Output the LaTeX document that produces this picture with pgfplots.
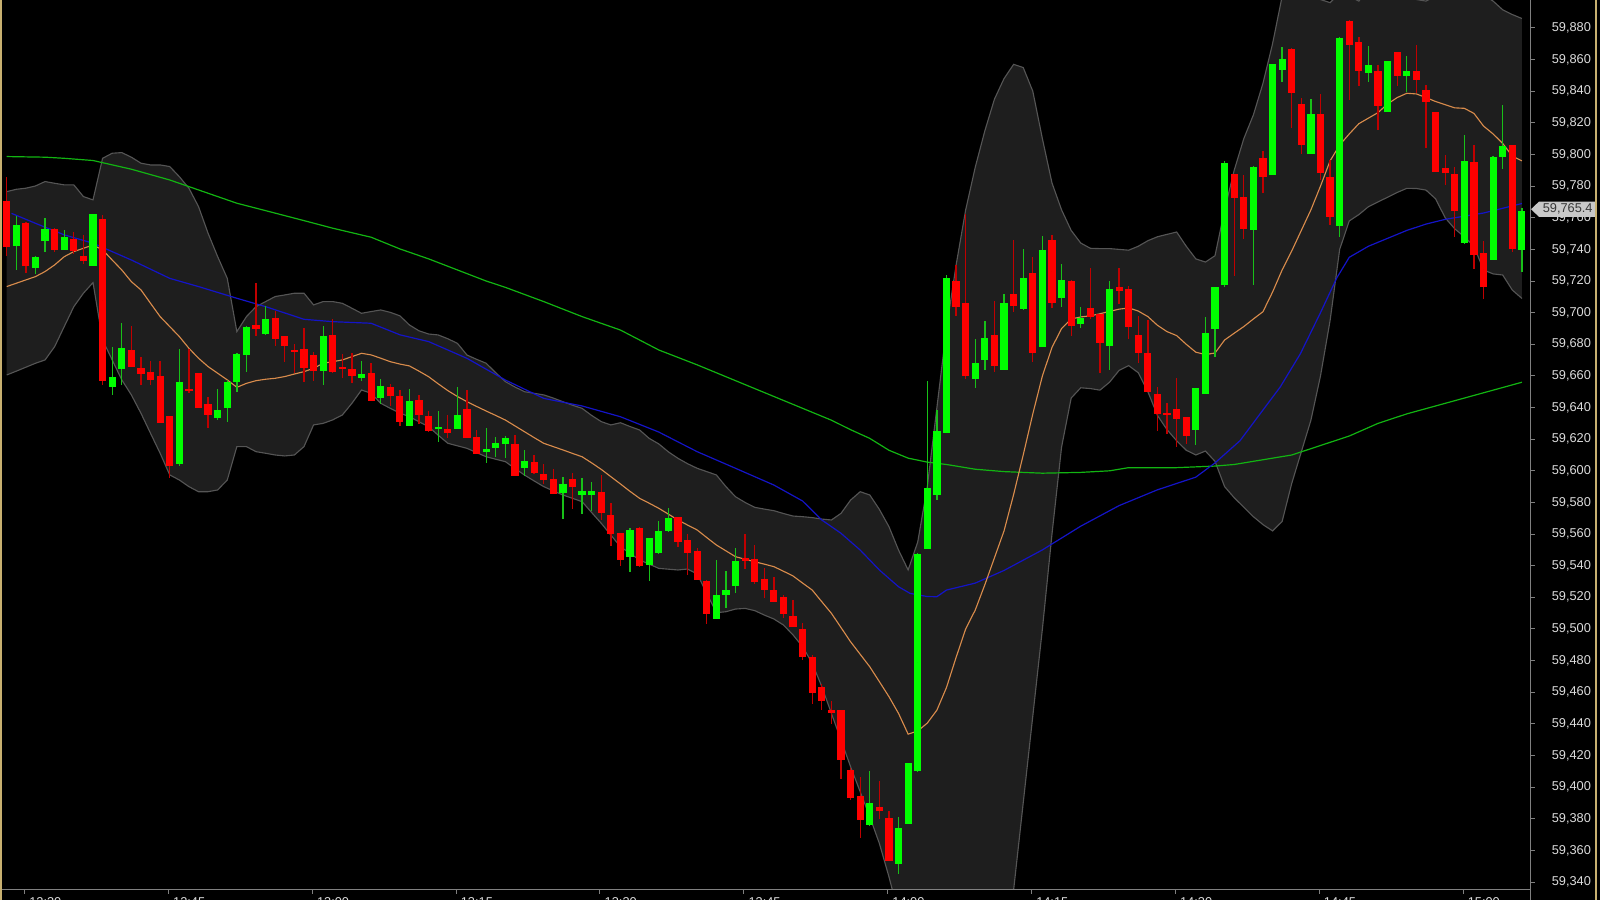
\documentclass[border=0pt]{standalone}
\usepackage{pgfplots}
\pgfplotsset{compat=1.18}
\usepackage{pgfplotstable}
\usepackage{fontspec}
\setmainfont{Liberation Sans}
\definecolor{bandfill}{HTML}{1E1E1E}
\definecolor{bandline}{HTML}{555555}
\definecolor{maorange}{HTML}{D98C4C}
\definecolor{mablue}{HTML}{1414C8}
\definecolor{magreen}{HTML}{12B412}
\definecolor{upbody}{HTML}{00FF00}
\definecolor{upwick}{HTML}{18C018}
\definecolor{dnbody}{HTML}{FF0000}
\definecolor{dnwick}{HTML}{C00000}
\definecolor{axisgray}{HTML}{808080}
\definecolor{ticktext}{HTML}{DCDCDC}
\definecolor{tagfill}{HTML}{C8C8C8}
\definecolor{tagtext}{HTML}{383838}
\definecolor{border}{HTML}{C8B070}

% candles: k = bar index (1 minute each), O H L C
\pgfplotstableread{
k O H L C
1 59743.2 59761.2 59727.6 59756.5
3 59729.1 59737.6 59726.0 59736.1
4 59745.4 59759.7 59738.2 59752.9
6 59740.3 59752.3 59739.7 59748.5
9 59730.2 59763.3 59730.2 59763.3
11 59653.9 59679.0 59649.0 59660.4
12 59664.8 59694.3 59655.3 59678.5
18 59604.1 59678.1 59604.1 59655.8
22 59634.9 59651.8 59632.6 59639.5
23 59641.2 59657.5 59631.1 59657.5
24 59657.5 59674.7 59650.1 59674.7
25 59673.7 59691.6 59662.7 59691.6
27 59686.5 59704.9 59686.5 59696.0
33 59663.1 59692.2 59655.3 59685.5
37 59660.6 59671.2 59658.5 59662.7
39 59645.9 59658.5 59642.7 59653.7
42 59629.0 59652.8 59629.0 59644.8
45 59626.2 59639.5 59619.9 59627.5
47 59628.3 59654.3 59628.3 59636.8
50 59612.1 59627.5 59605.8 59614.2
51 59615.3 59621.2 59608.5 59618.4
52 59618.0 59622.0 59608.5 59622.0
54 59602.6 59614.2 59597.3 59606.8
58 59586.8 59597.3 59570.6 59592.7
60 59585.8 59595.7 59572.5 59588.3
61 59585.8 59593.6 59575.2 59587.9
65 59545.3 59565.7 59537.9 59562.6
67 59541.1 59558.3 59531.0 59558.3
68 59548.2 59568.9 59548.2 59562.6
69 59561.9 59576.7 59561.9 59570.0
74 59507.1 59543.6 59506.3 59521.9
75 59522.1 59537.3 59513.5 59525.3
76 59528.4 59551.6 59523.6 59544.2
90 59376.6 59411.2 59376.6 59390.8
93 59351.8 59381.3 59345.5 59374.5
94 59377.5 59416.1 59377.5 59416.1
95 59410.4 59548.9 59410.4 59547.8
96 59551.6 59657.4 59551.6 59590.4
97 59586.2 59638.9 59581.6 59626.2
98 59624.8 59724.2 59624.8 59723.2
101 59658.5 59684.4 59653.2 59668.4
102 59670.7 59694.7 59663.8 59684.2
104 59664.8 59712.2 59664.8 59707.0
106 59703.4 59742.2 59703.4 59723.2
108 59679.6 59749.1 59679.6 59741.3
110 59710.5 59731.6 59704.2 59722.3
112 59693.7 59704.9 59691.6 59697.5
115 59679.1 59721.3 59664.8 59715.0
124 59625.8 59652.8 59617.4 59652.8
125 59649.4 59698.5 59649.4 59688.0
126 59689.7 59716.4 59672.6 59716.4
127 59718.1 59797.6 59718.1 59794.8
130 59753.3 59792.9 59717.5 59792.9
132 59788.1 59858.3 59788.1 59858.3
133 59854.5 59869.2 59847.1 59861.9
136 59801.4 59835.5 59801.4 59826.7
139 59756.1 59874.9 59748.5 59874.9
142 59852.8 59869.2 59846.5 59858.1
144 59828.6 59860.4 59828.6 59860.4
146 59850.9 59863.3 59840.4 59853.9
152 59744.5 59813.4 59744.5 59796.3
155 59734.3 59799.7 59733.9 59799.7
156 59799.3 59833.0 59792.3 59806.6
158 59740.7 59765.9 59725.9 59765.4
}\upcandles

\pgfplotstableread{
k O H L C
0 59771.3 59786.5 59736.5 59742.4
2 59757.2 59757.6 59725.5 59730.2
5 59752.9 59753.4 59738.6 59739.7
7 59747.7 59751.9 59738.0 59740.3
8 59736.1 59750.2 59731.6 59732.9
10 59760.1 59761.4 59654.3 59657.9
13 59677.9 59691.6 59666.9 59666.9
14 59665.2 59673.3 59656.0 59661.7
15 59664.4 59669.7 59654.3 59658.9
16 59660.4 59669.5 59631.1 59631.1
17 59635.3 59635.3 59595.7 59603.7
19 59651.8 59677.9 59650.1 59651.1
20 59662.7 59662.7 59640.6 59640.6
21 59643.3 59648.0 59628.4 59636.4
26 59692.2 59719.2 59686.3 59689.7
28 59697.5 59701.7 59679.0 59683.8
29 59684.9 59686.3 59670.1 59679.0
30 59677.1 59681.3 59663.1 59675.8
31 59676.8 59690.1 59656.0 59665.2
32 59673.3 59675.8 59657.5 59663.1
34 59686.3 59696.9 59663.1 59663.1
35 59665.9 59675.4 59660.2 59664.8
36 59665.2 59675.4 59657.0 59660.6
38 59663.1 59668.6 59644.8 59644.8
40 59652.8 59656.4 59642.7 59646.9
41 59647.5 59652.8 59630.0 59631.1
43 59646.5 59648.4 59630.0 59637.0
44 59634.7 59638.9 59625.4 59625.4
46 59627.9 59636.8 59622.0 59625.4
48 59639.5 59651.7 59621.6 59621.6
49 59621.2 59626.2 59611.0 59611.0
53 59618.4 59623.7 59597.8 59598.4
55 59606.2 59611.0 59599.0 59599.0
56 59599.5 59604.7 59591.7 59595.7
57 59596.3 59601.6 59585.8 59586.8
59 59594.6 59599.5 59576.7 59589.5
62 59587.4 59596.9 59568.5 59574.2
63 59573.1 59579.4 59552.7 59560.9
64 59561.5 59561.5 59541.1 59544.6
66 59565.3 59565.3 59540.0 59541.5
70 59571.4 59571.4 59552.5 59555.2
71 59556.2 59560.5 59534.7 59548.2
72 59549.9 59551.6 59531.6 59531.6
73 59531.4 59532.0 59504.0 59510.5
77 59545.7 59561.1 59539.0 59544.0
78 59545.1 59553.7 59528.9 59530.3
79 59531.4 59539.0 59520.0 59524.2
80 59525.3 59533.5 59517.2 59517.9
81 59521.5 59522.5 59507.8 59510.5
82 59508.4 59517.7 59501.4 59501.4
83 59501.0 59505.0 59481.8 59483.1
84 59483.5 59483.5 59453.0 59460.8
85 59463.9 59466.2 59449.8 59455.1
86 59449.4 59454.4 59439.7 59447.7
87 59448.8 59448.8 59405.5 59417.1
88 59411.9 59413.5 59393.5 59393.9
89 59395.6 59407.0 59368.6 59380.6
91 59387.2 59403.9 59379.6 59384.5
92 59381.3 59385.1 59353.9 59354.3
99 59720.7 59731.2 59698.5 59704.4
100 59706.3 59763.9 59659.5 59660.6
103 59685.5 59708.4 59663.1 59665.9
105 59711.8 59747.0 59701.7 59704.4
107 59725.3 59735.4 59668.4 59674.7
109 59746.4 59749.1 59703.2 59706.5
111 59721.3 59721.3 59685.5 59692.8
113 59703.2 59729.5 59697.1 59697.1
114 59699.6 59699.6 59662.7 59681.0
116 59717.1 59729.5 59707.0 59714.8
117 59715.4 59717.9 59684.8 59691.8
118 59685.9 59699.6 59669.4 59674.7
119 59675.1 59694.9 59650.7 59650.7
120 59649.6 59653.6 59625.4 59637.0
121 59637.0 59643.7 59623.7 59636.3
122 59639.3 59660.6 59616.7 59632.5
123 59634.6 59634.6 59618.4 59622.6
128 59787.7 59787.7 59724.4 59772.9
129 59773.3 59788.7 59748.0 59753.3
131 59798.2 59802.8 59776.5 59786.0
134 59867.1 59867.1 59817.0 59839.1
135 59832.8 59836.1 59800.7 59806.6
137 59826.7 59839.7 59784.9 59789.8
138 59786.4 59797.6 59756.5 59761.3
140 59886.1 59886.1 59835.5 59870.9
141 59871.4 59874.5 59843.3 59852.8
143 59853.0 59856.6 59815.5 59830.9
145 59865.0 59865.0 59843.9 59849.9
147 59853.0 59870.3 59839.7 59847.5
148 59842.3 59845.0 59804.9 59835.1
149 59828.1 59828.1 59790.6 59790.6
150 59792.3 59799.7 59780.7 59789.1
151 59788.1 59793.8 59749.1 59764.9
153 59796.3 59806.6 59728.0 59737.5
154 59738.1 59746.4 59710.1 59717.0
157 59806.4 59806.4 59738.5 59740.7
}\dncandles

% Bollinger band outline: upper band k=0..158 (rows 0-158), then lower band k=158..0 (rows 159-317)
\pgfplotstableread{
k v
0 59776.5
1 59778.0
2 59778.7
3 59780.1
4 59782.9
5 59781.8
6 59780.8
7 59780.8
8 59773.4
9 59771.3
10 59797.6
11 59800.8
12 59801.2
13 59798.3
14 59794.5
15 59793.4
16 59793.4
17 59792.4
18 59786.0
19 59778.7
20 59767.1
21 59750.2
22 59735.4
23 59721.7
24 59688.0
25 59697.5
26 59703.8
27 59707.0
28 59710.2
29 59711.2
30 59712.3
31 59712.3
32 59704.9
33 59707.0
34 59707.0
35 59705.9
36 59702.8
37 59699.6
38 59700.7
39 59701.7
40 59700.2
41 59698.0
42 59692.2
43 59688.5
44 59686.5
45 59685.9
46 59683.5
47 59680.6
48 59673.2
49 59670.5
50 59668.0
51 59662.0
52 59656.4
53 59653.0
54 59650.0
55 59649.0
56 59648.0
57 59646.0
58 59643.7
59 59641.5
60 59639.5
61 59635.0
62 59631.1
63 59629.0
64 59630.4
65 59628.0
66 59625.8
67 59620.5
68 59617.0
69 59612.0
70 59607.9
71 59604.5
72 59601.6
73 59599.5
74 59597.4
75 59590.0
76 59583.6
77 59580.0
78 59576.9
79 59575.8
80 59574.8
81 59573.0
82 59571.4
83 59571.0
84 59570.4
85 59569.5
86 59568.9
87 59573.1
88 59581.5
89 59586.8
90 59584.7
91 59575.6
92 59564.7
93 59549.9
94 59537.3
95 59555.0
96 59590.0
97 59640.0
98 59690.0
99 59730.0
100 59765.0
101 59792.0
102 59815.0
103 59835.0
104 59848.0
105 59857.0
106 59855.0
107 59840.0
108 59810.0
109 59782.0
110 59765.0
111 59752.0
112 59744.0
113 59740.7
114 59740.5
115 59740.5
116 59740.0
117 59739.5
118 59742.0
119 59745.5
120 59748.0
121 59749.5
122 59751.0
123 59742.0
124 59734.0
125 59732.0
126 59736.0
127 59765.0
128 59790.0
129 59810.0
130 59825.0
131 59845.0
132 59870.0
133 59900.0
134 59910.0
135 59905.0
136 59905.0
137 59898.0
138 59896.0
139 59902.0
140 59900.0
141 59897.0
142 59905.0
143 59910.0
144 59910.0
145 59908.0
146 59902.0
147 59898.0
148 59897.0
149 59900.0
150 59906.0
151 59906.0
152 59904.0
153 59903.0
154 59901.0
155 59897.0
156 59891.5
157 59888.5
158 59886.0
158 59709.0
157 59714.3
156 59723.8
155 59724.5
154 59727.0
153 59742.0
152 59748.0
151 59753.0
150 59760.0
149 59772.0
148 59777.5
147 59778.5
146 59778.6
145 59776.0
144 59773.0
143 59770.0
142 59767.0
141 59762.0
140 59758.0
139 59740.0
138 59695.0
137 59660.0
136 59632.0
135 59612.0
134 59592.0
133 59568.0
132 59562.0
131 59566.0
130 59571.0
129 59577.0
128 59583.0
127 59590.0
126 59606.0
125 59612.5
124 59610.0
123 59613.0
122 59619.0
121 59626.0
120 59635.0
119 59650.0
118 59662.0
117 59666.5
116 59663.5
115 59656.0
114 59651.0
113 59652.0
112 59652.5
111 59646.0
110 59615.0
109 59560.0
108 59500.0
107 59445.0
106 59390.0
105 59335.0
104 59310.0
103 59292.0
102 59285.0
101 59282.0
100 59280.0
99 59280.0
98 59280.0
97 59282.0
96 59285.0
95 59290.0
94 59300.0
93 59320.0
92 59343.3
91 59364.4
90 59381.3
89 59397.1
88 59412.9
87 59429.8
86 59446.6
85 59463.5
84 59478.3
83 59488.8
82 59496.2
81 59502.5
80 59506.3
79 59508.8
78 59511.6
77 59513.0
76 59512.6
75 59510.9
74 59510.3
73 59522.5
72 59534.8
71 59537.9
70 59537.3
69 59537.8
68 59538.3
67 59541.0
66 59543.6
65 59547.8
64 59552.0
63 59559.4
62 59566.8
61 59573.6
60 59580.5
59 59582.6
58 59584.7
57 59587.3
56 59590.0
55 59593.6
54 59597.3
53 59601.5
52 59605.8
51 59607.3
50 59608.9
49 59611.5
48 59614.2
47 59615.8
46 59617.4
45 59622.5
44 59627.9
43 59631.0
42 59634.2
41 59636.5
40 59639.5
39 59642.7
38 59649.0
37 59651.1
36 59642.7
35 59635.3
34 59632.2
33 59630.0
32 59629.0
31 59615.3
30 59610.0
29 59609.4
28 59610.0
27 59611.1
26 59612.1
25 59615.3
24 59615.3
23 59594.2
22 59587.9
21 59586.8
20 59586.8
19 59590.0
18 59594.2
17 59597.4
16 59611.1
15 59623.7
14 59636.4
13 59648.0
12 59657.5
11 59670.1
10 59682.7
9 59719.0
8 59712.3
7 59703.8
6 59691.2
5 59678.5
4 59670.1
3 59668.0
2 59665.5
1 59663.0
0 59660.6
}\band

% Bollinger middle line (orange)
\pgfplotstableread{
k v
0 59716.5
1 59718.6
2 59720.7
3 59722.8
4 59726.0
5 59730.2
6 59735.4
7 59738.6
8 59740.7
9 59742.8
10 59739.7
11 59733.3
12 59727.0
13 59719.6
14 59714.4
15 59705.9
16 59697.5
17 59691.2
18 59684.9
19 59677.5
20 59671.2
21 59665.9
22 59661.7
23 59657.5
24 59652.8
25 59655.3
26 59657.0
27 59657.9
28 59658.5
29 59659.6
30 59661.2
31 59662.7
32 59664.8
33 59668.0
34 59669.0
35 59670.1
36 59672.2
37 59674.3
38 59673.3
39 59671.2
40 59669.0
41 59667.5
42 59666.3
43 59663.0
44 59659.5
45 59655.0
46 59650.7
47 59647.0
48 59643.7
49 59640.7
50 59637.8
51 59635.0
52 59632.1
53 59628.4
54 59624.7
55 59621.0
56 59617.4
57 59615.3
58 59613.2
59 59611.0
60 59608.9
61 59605.0
62 59600.9
63 59596.3
64 59591.7
65 59587.0
66 59582.6
67 59579.5
68 59576.3
69 59572.6
70 59568.9
71 59565.7
72 59562.6
73 59557.8
74 59553.1
75 59549.4
76 59545.7
77 59544.1
78 59542.5
79 59541.0
80 59539.4
81 59536.5
82 59533.5
83 59529.0
84 59524.6
85 59517.2
86 59509.9
87 59500.9
88 59491.9
89 59484.0
90 59476.1
91 59466.7
92 59457.2
93 59446.6
94 59433.5
95 59435.5
96 59440.5
97 59448.7
98 59463.0
99 59482.0
100 59500.0
101 59512.0
102 59528.0
103 59545.0
104 59562.0
105 59585.0
106 59610.0
107 59636.0
108 59660.0
109 59678.0
110 59690.0
111 59696.0
112 59697.3
113 59698.0
114 59699.3
115 59700.8
116 59702.2
117 59703.0
118 59701.0
119 59697.5
120 59692.0
121 59688.0
122 59685.5
123 59680.0
124 59675.0
125 59673.5
126 59674.5
127 59682.7
128 59687.0
129 59691.2
130 59696.0
131 59700.6
132 59713.0
133 59727.0
134 59739.0
135 59752.0
136 59765.0
137 59780.0
138 59796.0
139 59806.0
140 59813.0
141 59819.5
142 59823.0
143 59826.5
144 59832.0
145 59836.0
146 59838.7
147 59838.3
148 59836.0
149 59833.5
150 59831.5
151 59829.5
152 59829.2
153 59826.0
154 59818.0
155 59813.0
156 59807.0
157 59799.0
158 59796.0
}\midband

% blue moving average
\pgfplotstableread{
k v
0.5 59762.8
3 59756.5
6 59749.2
9 59743.9
13 59733.3
17 59721.7
20 59716.5
24 59709.1
27 59703.8
31 59695.8
34 59694.3
38 59693.3
41 59686.0
44 59681.7
48 59671.1
52 59657.4
56 59645.8
60 59641.0
64 59634.2
68 59624.5
72 59612.1
76 59601.6
80 59591.0
83 59580.9
85 59568.9
87 59560.5
89 59549.9
91 59537.3
93 59526.7
94.2 59522.5
96 59520.5
97 59520.4
98 59524.6
101 59529.0
104 59537.0
108 59550.0
112 59565.0
116 59578.0
120 59588.0
124 59596.0
126 59605.0
128.6 59619.0
130.7 59636.0
132.8 59653.0
134.9 59674.0
137 59700.0
138.7 59722.0
140 59735.0
142 59742.0
144 59747.0
146 59752.0
148 59756.0
150 59759.0
152 59761.0
154 59763.0
156 59766.0
158 59769.0
}\bluema

% green moving average
\pgfplotstableread{
k v
0 59798.7
4 59798.3
6 59797.6
9 59796.2
13 59790.7
17 59783.9
20 59777.6
24 59769.2
27 59764.5
31 59758.2
34 59753.4
38 59747.7
41 59740.3
44 59734.0
47 59727.0
50 59720.0
52 59716.0
56 59707.0
60 59697.5
64 59689.0
68 59676.4
72 59667.0
76 59657.0
80 59647.0
84 59637.0
86 59632.0
88 59626.0
90 59620.5
92 59613.0
94 59608.0
96 59605.5
98 59604.0
101 59601.0
104 59599.5
108 59598.5
112 59599.0
115 59600.0
117 59602.0
122 59602.0
126 59603.0
128 59604.0
131 59607.0
134 59610.0
137 59616.0
140 59622.0
143 59630.0
146 59636.0
149 59641.0
152 59646.0
155 59651.0
158 59656.0
}\greenma

\newcommand{\labfont}{\fontsize{3.2}{3.6}\selectfont}

\pgfplotsset{candle/.style={only marks, no markers, mark size=0pt,
   mark options={draw=none, fill=none},
   error bars/.cd, y dir=both, y explicit, error mark=none}}

\begin{document}
\begin{tikzpicture}
\fill[black] (-0.5pt,-2.5pt) rectangle (399.5pt,222.5pt);
\begin{scope}
\clip (-0.5pt,-2.5pt) rectangle (399.5pt,222.5pt);
\begin{axis}[
  at={(0pt,0pt)}, anchor=south west,
  scale only axis, width=382.25pt, height=222.5pt,
  xmin=-0.49, xmax=158.95, ymin=59334.96, ymax=59897.7,
  axis line style={draw=none},
  tick align=outside,
  xtick pos=bottom, ytick pos=right, yticklabel pos=right,
  major tick length=1pt,
  tick style={color=axisgray, line width=0.25pt},
  scaled y ticks=false,
  xtick={1.86,16.86,31.86,46.86,61.86,76.86,91.86,106.86,121.86,136.86,151.86},
  xticklabels={12:30,12:45,13:00,13:15,13:30,13:45,14:00,14:15,14:30,14:45,15:00},
  ytick={59340,59360,59380,59400,59420,59440,59460,59480,59500,59520,59540,59560,59580,59600,59620,59640,59660,59680,59700,59720,59740,59760,59780,59800,59820,59840,59860,59880},
  /pgf/number format/assume math mode=true,
  yticklabel style={/pgf/number format/fixed, /pgf/number format/precision=0,
     /pgf/number format/1000 sep={,}, anchor=west, inner sep=0pt, xshift=4pt,
     text=ticktext, font=\labfont},
  xticklabel style={anchor=north west, inner sep=0pt, xshift=1pt, yshift=-0.75pt,
     text=ticktext, font=\labfont, overlay},
  clip=true,
]
% Bollinger band
\addplot[fill=bandfill, draw=none] table[x=k, y=v] {\band} -- cycle;
\addplot[bandline, line width=0.28pt, restrict expr to domain={\coordindex}{0:158}] table[x=k, y=v] {\band};
\addplot[bandline, line width=0.28pt, restrict expr to domain={\coordindex}{159:317}] table[x=k, y=v] {\band};
% moving averages
\addplot[magreen, line width=0.3pt] table[x=k, y=v] {\greenma};
\addplot[mablue, line width=0.3pt] table[x=k, y=v] {\bluema};
\addplot[maorange, line width=0.28pt] table[x=k, y=v] {\midband};
% wicks
\addplot[candle, error bar style={line width=0.33pt, color=upwick}]
   table[x=k, y expr=(\thisrow{H}+\thisrow{L})/2, y error expr=(\thisrow{H}-\thisrow{L})/2] {\upcandles};
\addplot[candle, error bar style={line width=0.33pt, color=dnwick}]
   table[x=k, y expr=(\thisrow{H}+\thisrow{L})/2, y error expr=(\thisrow{H}-\thisrow{L})/2] {\dncandles};
% bodies
\addplot[candle, error bar style={line width=1.8pt, color=upbody}]
   table[x=k, y expr=(\thisrow{O}+\thisrow{C})/2, y error expr={max(abs(\thisrow{C}-\thisrow{O})/2,0.6)}] {\upcandles};
\addplot[candle, error bar style={line width=1.8pt, color=dnbody}]
   table[x=k, y expr=(\thisrow{O}+\thisrow{C})/2, y error expr={max(abs(\thisrow{O}-\thisrow{C})/2,0.6)}] {\dncandles};
\coordinate (SW) at (rel axis cs:0,0);
\coordinate (SE) at (rel axis cs:1,0);
\coordinate (NE) at (rel axis cs:1,1);
\coordinate (tagtip) at (axis cs:158.95,59765.4);
\end{axis}
\end{scope}
% axis lines
\draw[overlay, axisgray, line width=0.25pt] ([xshift=-0.5pt]SW) -- (SE);
\draw[overlay, axisgray, line width=0.25pt] (NE) -- ([yshift=-2.5pt]SE);
% last price tag
\fill[overlay, tagfill] (tagtip) -- ++(2pt,1.9pt) -- ++(14.25pt,0pt) -- ++(0pt,-3.8pt) -- ++(-14.25pt,0pt) -- cycle;
\node[overlay, anchor=west, inner sep=0pt, text=tagtext, font=\labfont] at ([xshift=2.75pt]tagtip) {59,765.4};
% frame borders
\draw[overlay, border, line width=0.4pt] (-0.3pt,-2.5pt) -- (-0.3pt,222.5pt);
\draw[overlay, border, line width=0.4pt] (398.5pt,-2.5pt) -- (398.5pt,222.5pt);
\end{tikzpicture}
\end{document}
